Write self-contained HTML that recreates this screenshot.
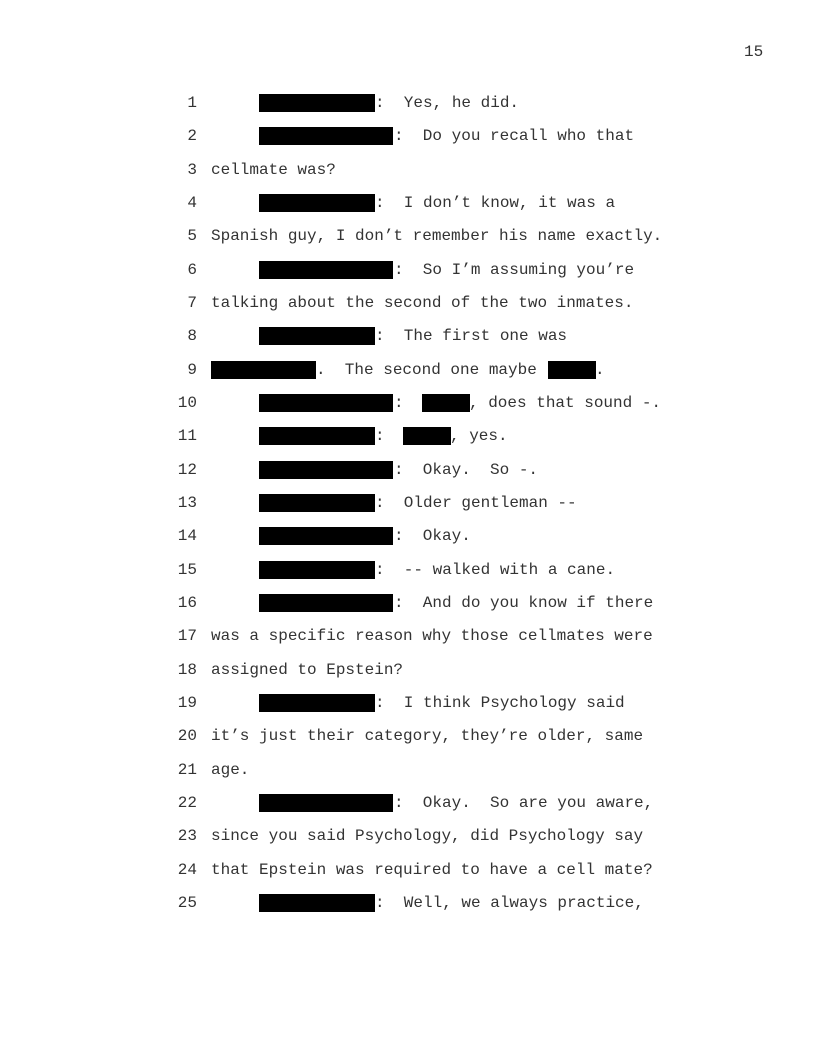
<!DOCTYPE html>
<html><head><style>
body{margin:0;background:#fff}
#p{position:relative;width:816px;height:1056px;font-family:"Liberation Mono",monospace;font-size:16px;color:#333;line-height:18px}
.l{position:absolute;left:0;width:816px;height:18px}
.l span{position:absolute;top:0;white-space:pre}
.n{right:619px;text-align:right}
.b{position:absolute;top:0;height:18px;background:#000}
</style></head><body><div id="p">
<div style="position:absolute;left:744px;top:43px;white-space:pre">15</div>

<div class="l" style="top:94px"><span class="n">1</span><div class="b" style="left:259px;width:116px"></div><span style="left:375px">:  Yes, he did.</span></div>
<div class="l" style="top:127.3px"><span class="n">2</span><div class="b" style="left:259px;width:134px"></div><span style="left:394px">:  Do you recall who that</span></div>
<div class="l" style="top:160.7px"><span class="n">3</span><span style="left:211px">cellmate was?</span></div>
<div class="l" style="top:194px"><span class="n">4</span><div class="b" style="left:259px;width:116px"></div><span style="left:375px">:  I don’t know, it was a</span></div>
<div class="l" style="top:227.3px"><span class="n">5</span><span style="left:211px">Spanish guy, I don’t remember his name exactly.</span></div>
<div class="l" style="top:260.7px"><span class="n">6</span><div class="b" style="left:259px;width:134px"></div><span style="left:394px">:  So I’m assuming you’re</span></div>
<div class="l" style="top:294px"><span class="n">7</span><span style="left:211px">talking about the second of the two inmates.</span></div>
<div class="l" style="top:327.3px"><span class="n">8</span><div class="b" style="left:259px;width:116px"></div><span style="left:375px">:  The first one was</span></div>
<div class="l" style="top:360.7px"><span class="n">9</span><div class="b" style="left:211px;width:105px"></div><span style="left:316px">.  The second one maybe</span><div class="b" style="left:548px;width:48px"></div><span style="left:595px">.</span></div>
<div class="l" style="top:394px"><span class="n">10</span><div class="b" style="left:259px;width:134px"></div><span style="left:394px">:</span><div class="b" style="left:422px;width:48px"></div><span style="left:469px">, does that sound -.</span></div>
<div class="l" style="top:427.3px"><span class="n">11</span><div class="b" style="left:259px;width:116px"></div><span style="left:375px">:</span><div class="b" style="left:403px;width:48px"></div><span style="left:450px">, yes.</span></div>
<div class="l" style="top:460.7px"><span class="n">12</span><div class="b" style="left:259px;width:134px"></div><span style="left:394px">:  Okay.  So -.</span></div>
<div class="l" style="top:494px"><span class="n">13</span><div class="b" style="left:259px;width:116px"></div><span style="left:375px">:  Older gentleman --</span></div>
<div class="l" style="top:527.3px"><span class="n">14</span><div class="b" style="left:259px;width:134px"></div><span style="left:394px">:  Okay.</span></div>
<div class="l" style="top:560.7px"><span class="n">15</span><div class="b" style="left:259px;width:116px"></div><span style="left:375px">:  -- walked with a cane.</span></div>
<div class="l" style="top:594px"><span class="n">16</span><div class="b" style="left:259px;width:134px"></div><span style="left:394px">:  And do you know if there</span></div>
<div class="l" style="top:627.3px"><span class="n">17</span><span style="left:211px">was a specific reason why those cellmates were</span></div>
<div class="l" style="top:660.7px"><span class="n">18</span><span style="left:211px">assigned to Epstein?</span></div>
<div class="l" style="top:694px"><span class="n">19</span><div class="b" style="left:259px;width:116px"></div><span style="left:375px">:  I think Psychology said</span></div>
<div class="l" style="top:727.3px"><span class="n">20</span><span style="left:211px">it’s just their category, they’re older, same</span></div>
<div class="l" style="top:760.7px"><span class="n">21</span><span style="left:211px">age.</span></div>
<div class="l" style="top:794px"><span class="n">22</span><div class="b" style="left:259px;width:134px"></div><span style="left:394px">:  Okay.  So are you aware,</span></div>
<div class="l" style="top:827.3px"><span class="n">23</span><span style="left:211px">since you said Psychology, did Psychology say</span></div>
<div class="l" style="top:860.7px"><span class="n">24</span><span style="left:211px">that Epstein was required to have a cell mate?</span></div>
<div class="l" style="top:894px"><span class="n">25</span><div class="b" style="left:259px;width:116px"></div><span style="left:375px">:  Well, we always practice,</span></div>
</div></body></html>
